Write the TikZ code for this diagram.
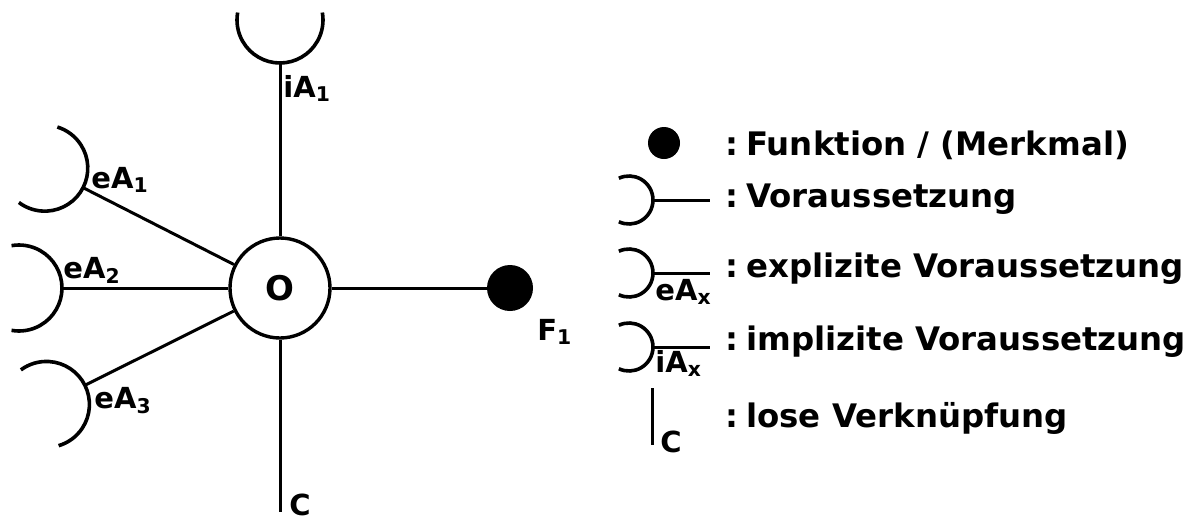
\documentclass[tikz,border=0pt]{standalone}
\usepackage{fontspec}
\setmainfont{DejaVu Sans}
\usetikzlibrary{calc}
\newcommand\legcolon{:\hspace{4pt}}
\tikzset{
  conn/.style={line width=1.5pt},
  cupline/.style={line width=1.8pt},
  lbl/.style={font=\fontsize{14.5}{17}\selectfont\bfseries, inner sep=0pt, anchor=base west},
  legtext/.style={font=\fontsize{16.2}{19}\selectfont\bfseries, inner sep=0pt, anchor=base west},
  % cup symbol: #1 = direction it faces, #2 = radius, #3 = half opening of the arc
  pics/cup/.style n args={3}{code={
    \draw[cupline] (0,0) arc[start angle=#1, delta angle=#3, radius=#2]
                   (0,0) arc[start angle=#1, delta angle=-#3, radius=#2];
  }},
}
\begin{document}
\begin{tikzpicture}[x=0.5pt,y=0.5pt]
\useasboundingbox (0,0) rectangle (1193,-520);

% central object
\node[circle, draw, line width=1.7pt, minimum size=50pt, inner sep=0pt,
      font=\fontsize{17}{20}\selectfont\bfseries] (O) at (280,-288) {O};

% attachment points of the prerequisites
\coordinate (tA) at ($(O.center)+(90:225)$);
\coordinate (e1) at ($(O.center)+(153:221)$);
\coordinate (e2) at ($(O.center)+(180:218)$);
\coordinate (e3) at ($(O.center)+(206.5:218)$);

\pic at (tA) {cup={-90}{43}{100}};
\pic at (e1) {cup={-27}{43}{100}};
\pic at (e2) {cup={0}{43}{100}};
\pic at (e3) {cup={26.5}{43}{100}};

\draw[conn] (tA) -- (O);
\draw[conn] (e1) -- (O);
\draw[conn] (e2) -- (O);
\draw[conn] (e3) -- (O);

\node[lbl] (liA1) at (283,-97) {iA\textsubscript{1}};
\node[lbl] (leA1) at (91,-188) {eA\textsubscript{1}};
\node[lbl] (leA2) at (63,-278) {eA\textsubscript{2}};
\node[lbl] (leA3) at (94,-408) {eA\textsubscript{3}};

% loose link
\coordinate (cEnd) at (280,-512);
\draw[conn] (O) -- (cEnd);
\node[lbl] (lC) at (289,-515) {C};

% function
\node[circle, fill, minimum size=23pt, inner sep=0pt] (F) at (510,-288) {};
\draw[conn] (O) -- (F);
\node[lbl] (lF) at (537,-340) {F\textsubscript{1}};

% legend
\node[circle, fill, minimum size=16pt, inner sep=0pt] (kb) at (664,-143) {};
\node[legtext] (kt1) at (725,-155) {\legcolon Funktion / (Merkmal)};

\coordinate (k2) at (653,-200);
\coordinate (k2e) at (710,-200);
\pic at (k2) {cup={0}{24}{115}};
\draw[conn] (k2) -- (k2e);
\node[legtext] (kt2) at (725,-207) {\legcolon Voraussetzung};

\coordinate (k3) at (653,-273);
\coordinate (k3e) at (710,-273);
\pic at (k3) {cup={0}{24}{115}};
\draw[conn] (k3) -- (k3e);
\node[lbl] (k3l) at (655,-300) {eA\textsubscript{x}};
\node[legtext] (kt3) at (725,-277) {\legcolon explizite Voraussetzung};

\coordinate (k4) at (653,-347);
\coordinate (k4e) at (710,-347);
\pic at (k4) {cup={0}{24}{115}};
\draw[conn] (k4) -- (k4e);
\node[lbl] (k4l) at (655,-372) {iA\textsubscript{x}};
\node[legtext] (kt4) at (725,-350) {\legcolon implizite Voraussetzung};

\coordinate (k5a) at (652,-388);
\coordinate (k5b) at (652,-445);
\draw[conn] (k5a) -- (k5b);
\node[lbl] (k5l) at (660,-452) {C};
\node[legtext] (kt5) at (725,-427) {\legcolon lose Verknüpfung};
\end{tikzpicture}
\end{document}
